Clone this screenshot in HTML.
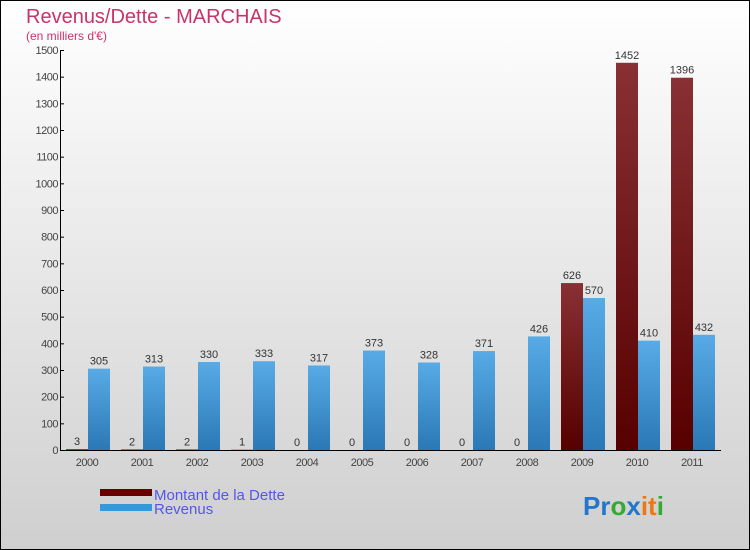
<!DOCTYPE html>
<html><head><meta charset="utf-8"><style>
body{margin:0;width:750px;height:550px;overflow:hidden}
svg{display:block;font-family:"Liberation Sans",sans-serif}
</style></head><body>
<svg width="750" height="550">
<defs>
<linearGradient id="bg" x1="0" y1="0" x2="0" y2="1"><stop offset="0" stop-color="#ffffff"/><stop offset="1" stop-color="#cfcfcf"/></linearGradient>
<linearGradient id="gd" x1="0" y1="0" x2="0" y2="1"><stop offset="0" stop-color="#883033"/><stop offset="1" stop-color="#570000"/></linearGradient>
<linearGradient id="gr" x1="0" y1="0" x2="0" y2="1"><stop offset="0" stop-color="#58abe6"/><stop offset="1" stop-color="#2a78b5"/></linearGradient>
</defs>
<rect x="0.5" y="0.5" width="749" height="549" fill="url(#bg)" stroke="#000"/>
<text x="26" y="23" font-size="20" fill="#c8336a">Revenus/Dette - MARCHAIS</text>
<text x="26" y="40" font-size="12" fill="#c8336a">(en milliers d'€)</text>
<g id="axes"></g>
<g id="bars"></g>
<g>
<rect x="100" y="489" width="52" height="7" fill="#660000"/>
<text x="154" y="500" font-size="15" fill="#5555ee">Montant de la Dette</text>
<rect x="100" y="504" width="52" height="7" fill="#3399dd"/>
<text x="154" y="514" font-size="15" fill="#5555ee">Revenus</text>
</g>
<g font-size="26" font-weight="bold">
<text x="583" y="515"><tspan fill="#2277cc">Pr</tspan><tspan fill="#33aa33">o</tspan><tspan fill="#2277cc">x</tspan><tspan fill="#ee7711">it</tspan><tspan fill="#33aa33">i</tspan></text>
</g>
</svg>
<script>
const years=["2000","2001","2002","2003","2004","2005","2006","2007","2008","2009","2010","2011"];
const dette=[3,2,2,1,0,0,0,0,0,626,1452,1396];
const revenus=[305,313,330,333,317,373,328,371,426,570,410,432];
const ticks=[0,100,200,300,400,500,600,700,800,900,1000,1100,1200,1300,1400,1500];
const NS="http://www.w3.org/2000/svg";
const y0=450,yTop=50,maxV=1500;
function yS(v){return y0-(v/maxV)*(y0-yTop);}
function xC(i){return 87+i*55;}
function mk(tag,attrs,parent,txt){const e=document.createElementNS(NS,tag);for(const k in attrs)e.setAttribute(k,attrs[k]);if(txt!==undefined)e.textContent=txt;parent.appendChild(e);return e;}
const ax=document.getElementById('axes'),bg=document.getElementById('bars');
let l=mk('line',{x1:60.5,y1:yTop,x2:60.5,y2:y0,stroke:'#000'},ax);


l=mk('line',{x1:60,y1:y0+0.5,x2:721,y2:y0+0.5,stroke:'#000'},ax);


ticks.forEach(t=>{
 const y=yS(t);
 mk('line',{x1:60,y1:y+0.5,x2:64,y2:y+0.5,stroke:'#000'},ax);
 const tx=mk('text',{x:58,y:y+4,'font-size':11,fill:'#444','text-anchor':'end','letter-spacing':'-0.5'},ax,t);
 
 
});
years.forEach((yr,i)=>{
 const c=xC(i);
 const tx=mk('text',{x:c,y:466,'font-size':11,fill:'#444','text-anchor':'middle','letter-spacing':'-0.5'},ax,yr);
 
 
 const yd=yS(dette[i]);
 const b1=mk('rect',{x:c-21,y:yd,width:22,height:y0-yd,fill:'url(#gd)'},bg);
 
 
 const v1=mk('text',{x:c-10,y:yd-4,'font-size':11,fill:'#333','text-anchor':'middle'},bg,dette[i]);
 
 
 const yr2=yS(revenus[i]);
 const b2=mk('rect',{x:c+1,y:yr2,width:22,height:y0-yr2,fill:'url(#gr)'},bg);
 
 
 const v2=mk('text',{x:c+12,y:yr2-4,'font-size':11,fill:'#333','text-anchor':'middle'},bg,revenus[i]);
 
 
});
</script>
</body></html>
